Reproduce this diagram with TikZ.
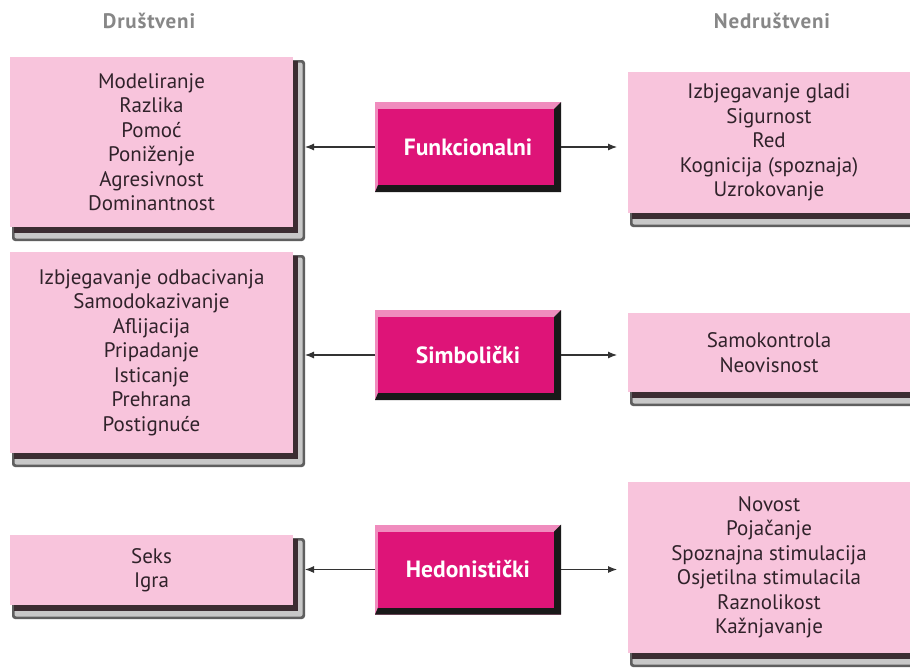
\documentclass[tikz,border=0pt]{standalone}
\usepackage{fontspec}
\setmainfont{PT Sans}
\usetikzlibrary{arrows.meta,calc}
\definecolor{boxpink}{RGB}{248,196,220}
\definecolor{magent}{RGB}{222,20,120}
\definecolor{bevlight}{RGB}{240,140,190}
\definecolor{txtdark}{RGB}{48,34,42}
\definecolor{shadowdark}{RGB}{60,45,50}
\definecolor{framedark}{RGB}{95,95,95}
\definecolor{framelight}{RGB}{200,200,200}
\definecolor{headgray}{RGB}{135,135,135}
\newcommand\topstrut{\rule{0pt}{22pt}}
\tikzset{
 boxgeom/.style={inner sep=0pt, outer sep=0pt, minimum width=283pt},
 listbox/.style={boxgeom, fill=boxpink, text=txtdark, align=center, font=\fontsize{21}{24.5}\selectfont, execute at begin node=\topstrut},
 centerbox/.style={text=white, inner sep=0pt, outer sep=0pt, minimum width=186pt, minimum height=90pt, font=\fontsize{23.5}{26}\selectfont\bfseries},
 header/.style={text=headgray, inner sep=0pt, font=\fontsize{21}{24}\selectfont\bfseries\addfontfeatures{LetterSpace=4}},
 conn/.style={draw=black!80, line width=1.1pt, -{Latex[length=9pt,width=7pt]}},
}
\newcommand\shadowframe[1]{%
  \fill[framedark, rounded corners=3pt] ($(#1.north west)+(2,3)$) rectangle ($(#1.south east)+(12,14)$);
  \fill[framelight, rounded corners=2pt] ($(#1.north west)+(4.5,5.5)$) rectangle ($(#1.south east)+(9.5,11.5)$);
  \fill[shadowdark] ($(#1.north west)+(4,4)$) rectangle ($(#1.south east)+(5,6)$);}
\newcommand\bevelbox[1]{%
  \fill[bevlight] (#1.north west) rectangle (#1.south east);
  \fill[black!90] (#1.north east) -- (#1.south east) -- (#1.south west) -- ($(#1.south west)+(3,-7)$) -- ($(#1.south east)+(-7,-7)$) -- ($(#1.north east)+(-7,7)$) -- cycle;
  \fill[magent] ($(#1.north west)+(3,7)$) rectangle ($(#1.south east)+(-7,-7)$);}
\begin{document}
\begin{tikzpicture}[x=1pt,y=-1pt]
\useasboundingbox (0,0) rectangle (910,667);
\clip (0,0) rectangle (910,667);
\fill[white] (0,0) rectangle (910,667);
\node[header] (h1) at (149,21) {Društveni};
\node[header] (h2) at (772,21) {Nedruštveni};

% box outlines (geometry)
\path node[boxgeom, minimum height=170pt] (l1) at (151.5,142) {}
      node[boxgeom, minimum height=201pt] (l2) at (151.5,352.5) {}
      node[boxgeom, minimum height=70pt]  (l3) at (151.5,570) {}
      node[boxgeom, minimum width=300pt, minimum height=141pt] (r1) at (778,142.5) {}
      node[boxgeom, minimum width=300pt, minimum height=79pt]  (r2) at (778,352.5) {}
      node[boxgeom, minimum width=300pt, minimum height=171pt] (r3) at (778,567.5) {};
\shadowframe{l1}\shadowframe{l2}\shadowframe{l3}
\shadowframe{r1}\shadowframe{r2}\shadowframe{r3}
\fill[boxpink] (r1.north west) rectangle (r1.south east);
\fill[boxpink] (r2.north west) rectangle (r2.south east);
\fill[boxpink] (r3.north west) rectangle (r3.south east);

\node[listbox, minimum height=170pt] (l1t) at (l1) {Modeliranje\\Razlika\\Pomoć\\Poniženje\\Agresivnost\\Dominantnost};
\node[listbox, minimum height=201pt] (l2t) at (l2) {Izbjegavanje odbacivanja\\Samodokazivanje\\Aflijacija\\Pripadanje\\Isticanje\\Prehrana\\Postignuće};
\node[listbox, minimum height=70pt] (l3t) at (l3) {Seks\\Igra};
\node[listbox, minimum width=282pt, minimum height=141pt] (r1t) at (769,142.5) {Izbjegavanje gladi\\Sigurnost\\Red\\Kognicija (spoznaja)\\Uzrokovanje};
\node[listbox, minimum width=282pt, minimum height=79pt] (r2t) at (769,352.5) {Samokontrola\\Neovisnost};
\node[listbox, minimum width=282pt, minimum height=171pt] (r3t) at (769,567.5) {Novost\\Pojačanje\\Spoznajna stimulacija\\Osjetilna stimulacila\\Raznolikost\\Kažnjavanje};

\path node[centerbox] (f1) at (468,147) {}
      node[centerbox] (f2) at (468,355) {}
      node[centerbox] (f3) at (468,569.5) {};
\bevelbox{f1}\bevelbox{f2}\bevelbox{f3}
\node[centerbox] (f1t) at (f1) {Funkcionalni};
\node[centerbox] (f2t) at (f2) {Simbolički};
\node[centerbox] (f3t) at (f3) {Hedonistički};

\foreach \c/\l/\r in {f1/l1/r1, f2/l2/r2, f3/l3/r3}{
  \draw[conn] (\c.west) -- ($(\c.west -| \l.east)+(12,0)$);
  \draw[conn] (\c.east) -- ($(\c.east -| \r.west)+(-11,0)$);
}
\end{tikzpicture}
\end{document}
